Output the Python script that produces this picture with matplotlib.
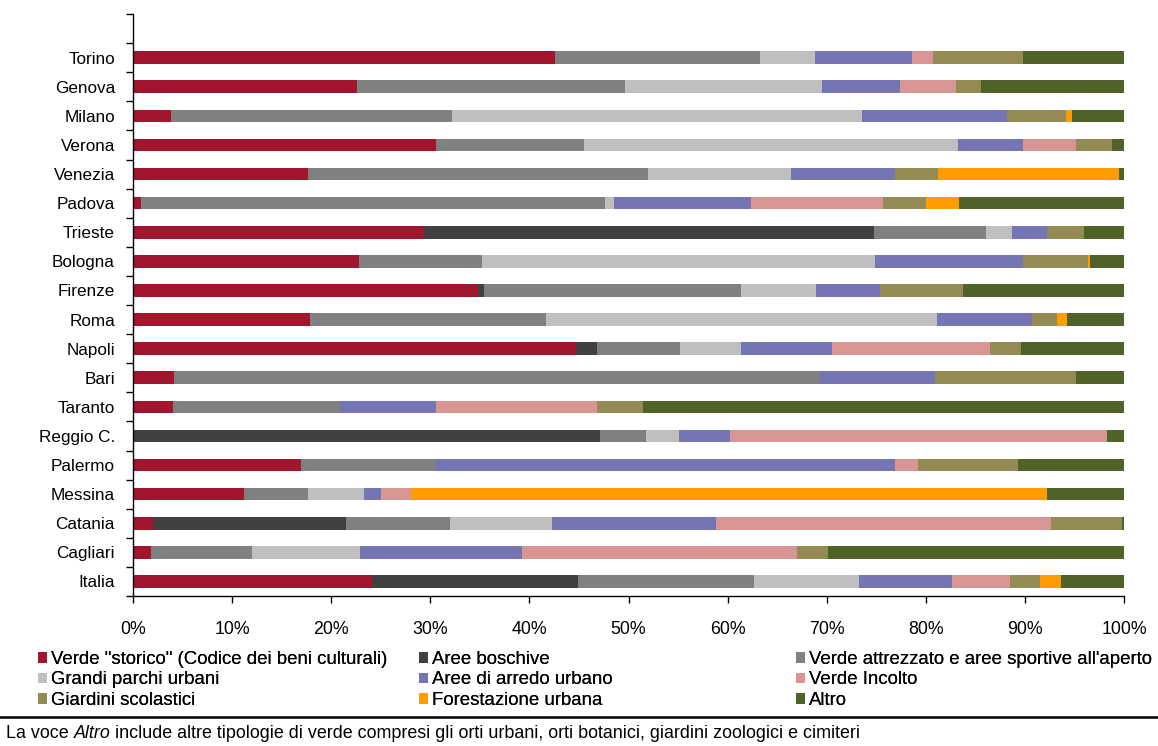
import numpy as np
import matplotlib.pyplot as plt
from matplotlib.patches import Patch
from matplotlib.ticker import FuncFormatter

plt.rcParams['font.family'] = ['Liberation Sans', 'DejaVu Sans']

citta = ['Torino', 'Genova', 'Milano', 'Verona', 'Venezia', 'Padova', 'Trieste',
         'Bologna', 'Firenze', 'Roma', 'Napoli', 'Bari', 'Taranto', 'Reggio C.',
         'Palermo', 'Messina', 'Catania', 'Cagliari', 'Italia']

# quote percentuali per tipologia di verde (stesso ordine delle città)
storico      = [42.6, 22.6, 3.8, 30.6, 17.7, 0.8, 29.4, 22.8, 34.8, 17.9, 44.7, 4.1, 4.0, 0.0, 17.0, 11.2, 2.0, 1.8, 24.1]
boschive     = [0.0, 0.0, 0.0, 0.0, 0.0, 0.0, 45.4, 0.0, 0.6, 0.0, 2.1, 0.0, 0.0, 47.1, 0.0, 0.0, 19.5, 0.0, 20.8]
attrezzato   = [20.7, 27.0, 28.4, 14.9, 34.3, 46.8, 11.3, 12.4, 26.0, 23.8, 8.4, 65.2, 16.9, 4.7, 13.6, 6.5, 10.5, 10.2, 17.8]
parchi       = [5.5, 19.9, 41.4, 37.7, 14.4, 0.9, 2.6, 39.7, 7.5, 39.4, 6.2, 0.0, 0.0, 3.3, 0.0, 5.6, 10.3, 10.9, 10.6]
arredo       = [9.8, 7.9, 14.6, 6.6, 10.5, 13.9, 3.5, 14.9, 6.5, 9.6, 9.1, 11.6, 9.7, 5.1, 46.3, 1.7, 16.5, 16.4, 9.3]
incolto      = [2.1, 5.6, 0.0, 5.4, 0.0, 13.3, 0.0, 0.0, 0.0, 0.0, 16.0, 0.0, 16.2, 38.1, 2.3, 3.1, 33.8, 27.7, 5.9]
scolastici   = [9.1, 2.6, 5.9, 3.6, 4.3, 4.3, 3.8, 6.6, 8.4, 2.5, 3.1, 14.3, 4.7, 0.0, 10.1, 0.0, 7.2, 3.1, 3.0]
forestazione = [0.0, 0.0, 0.7, 0.0, 18.3, 3.4, 0.0, 0.2, 0.0, 1.0, 0.0, 0.0, 0.0, 0.0, 0.0, 64.1, 0.0, 0.0, 2.1]
altro        = [10.2, 14.4, 5.2, 1.2, 0.5, 16.6, 4.0, 3.4, 16.2, 5.8, 10.4, 4.8, 48.5, 1.7, 10.7, 7.8, 0.2, 29.9, 6.4]

serie = [
    ('Verde "storico" (Codice dei beni culturali)', storico, '#A3142F'),
    ('Aree boschive', boschive, '#404040'),
    ("Verde attrezzato e aree sportive all'aperto", attrezzato, '#808080'),
    ('Grandi parchi urbani', parchi, '#BFBFBF'),
    ('Aree di arredo urbano', arredo, '#7575B3'),
    ('Verde Incolto', incolto, '#D99594'),
    ('Giardini scolastici', scolastici, '#948A54'),
    ('Forestazione urbana', forestazione, '#FF9C00'),
    ('Altro', altro, '#4F6228'),
]

fig = plt.figure(figsize=(11.58, 7.46), dpi=100)
ax = fig.add_axes([133 / 1158, 1 - 596 / 746, (1124 - 133) / 1158, (596 - 14) / 746])

y = np.arange(len(citta))
left = np.zeros(len(citta))
handles = []
for nome, valori, colore in serie:
    valori = np.array(valori)
    ax.barh(y, valori, left=left, height=0.43, color=colore, edgecolor='none')
    left += valori
    handles.append(Patch(facecolor=colore, label=nome))

ax.set_xlim(0, 100)
ax.set_ylim(18.5, -1.5)
ax.set_xticks(np.arange(0, 101, 10))
ax.xaxis.set_major_formatter(FuncFormatter(lambda v, p: f'{v:.0f}%'))
ax.set_yticks(y)
ax.set_yticklabels(citta)
ax.set_yticks(np.arange(-1.5, 19, 1), minor=True)

ax.tick_params(axis='y', which='major', length=0, pad=13, labelsize=12.3)
ax.tick_params(axis='y', which='minor', length=5, width=1, direction='out')
ax.tick_params(axis='x', length=5, width=1, direction='out', pad=13, labelsize=12.8)

for s in ['top', 'right']:
    ax.spines[s].set_visible(False)
for s in ['left', 'bottom']:
    ax.spines[s].set_linewidth(1)
    ax.spines[s].set_color('black')

# legenda su tre colonne, disposta per righe
colonne = [(38, [0, 3, 6]), (419, [1, 4, 7]), (796, [2, 5, 8])]
for x0, idx in colonne:
    leg = fig.legend(handles=[handles[i] for i in idx], loc='center left',
                     bbox_to_anchor=(x0 / 1158, 1 - 680 / 746), frameon=False,
                     fontsize=13.4, handlelength=0.5, handleheight=0.5,
                     handletextpad=0.2, labelspacing=0.18, borderpad=0,
                     borderaxespad=0)
    fig.add_artist(leg)

fig.add_artist(plt.Line2D([0, 1], [1 - 717 / 746] * 2, transform=fig.transFigure,
                          color='black', linewidth=1.8))

# nota a piè di grafico, con "Altro" in corsivo
t1 = fig.text(6 / 1158, 1 - 733 / 746, 'La voce ', fontsize=12.9, va='center')
t2 = ax.annotate('Altro', xy=(1, 0), xycoords=t1, va='bottom', ha='left',
                 fontsize=12.9, style='italic', annotation_clip=False)
ax.annotate(' include altre tipologie di verde compresi gli orti urbani, orti botanici, '
            'giardini zoologici e cimiteri', xy=(1, 0), xycoords=t2, va='bottom',
            ha='left', fontsize=12.9, annotation_clip=False)

fig.savefig('out.png', dpi=100)
